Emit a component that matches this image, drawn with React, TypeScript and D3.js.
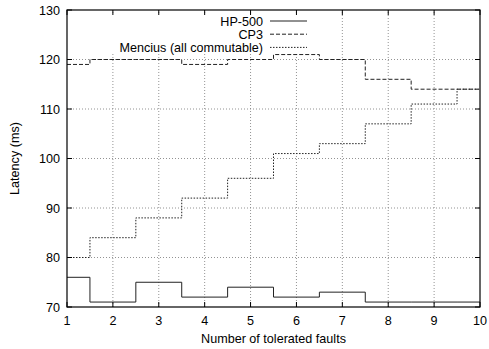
import React, {useEffect, useRef} from 'react';
import * as d3 from 'd3';

const faults = [1, 2, 3, 4, 5, 6, 7, 8, 9, 10];
const hp500 = [76, 71, 75, 72, 74, 72, 73, 71, 71, 71];
const cp3 = [119, 120, 120, 119, 120, 121, 120, 116, 114, 114];
const mencius = [80, 84, 88, 92, 96, 101, 103, 107, 111, 114];
const yTicks = [70, 80, 90, 100, 110, 120, 130];

const seriesList = [
  {name: 'HP-500', values: hp500, dash: null},
  {name: 'CP3', values: cp3, dash: '4,2'},
  {name: 'Mencius (all commutable)', values: mencius, dash: '1.5,1.5'},
];

export default function App() {
  const ref = useRef<SVGSVGElement>(null);

  useEffect(() => {
    const width = 489;
    const height = 349;
    const margin = {top: 10, right: 9, bottom: 42, left: 67};
    const svg = d3.select(ref.current);
    svg.selectAll('*').remove();

    const font = '"Liberation Sans", Arial, Helvetica, sans-serif';
    const fs = 12.6;
    const x = d3.scaleLinear().domain([1, 10])
        .range([margin.left, width - margin.right]);
    const y = d3.scaleLinear().domain([70, 130])
        .range([height - margin.bottom, margin.top]);

    svg.append('rect').attr('width', width).attr('height', height)
        .attr('fill', 'white');

    // grid
    const grid = svg.append('g')
        .attr('stroke', '#777')
        .attr('stroke-width', 0.8)
        .attr('stroke-dasharray', '1,2');
    faults.slice(1, -1).forEach((f) => {
      grid.append('line').attr('x1', x(f)).attr('x2', x(f))
          .attr('y1', y(70)).attr('y2', y(130));
    });
    yTicks.slice(1, -1).forEach((t) => {
      grid.append('line').attr('x1', x(1)).attr('x2', x(10))
          .attr('y1', y(t)).attr('y2', y(t));
    });

    // legend box hides grid
    svg.append('rect')
        .attr('x', 110).attr('y', 14)
        .attr('width', 202).attr('height', 40)
        .attr('fill', 'white');

    // series
    const line = d3.line<number>()
        .x((d, i) => x(faults[i]))
        .y((d) => y(d))
        .curve(d3.curveStep);
    seriesList.forEach((s) => {
      svg.append('path')
          .attr('d', line(s.values))
          .attr('fill', 'none')
          .attr('stroke', '#222')
          .attr('stroke-width', 1)
          .attr('stroke-dasharray', s.dash);
    });

    // border
    svg.append('rect')
        .attr('x', x(1)).attr('y', y(130))
        .attr('width', x(10) - x(1)).attr('height', y(70) - y(130))
        .attr('fill', 'none').attr('stroke', 'black').attr('stroke-width', 1.2);

    // ticks (inward, mirrored)
    const tickLen = 5;
    const ticks = svg.append('g').attr('stroke', 'black');
    faults.forEach((f) => {
      ticks.append('line').attr('x1', x(f)).attr('x2', x(f))
          .attr('y1', y(70)).attr('y2', y(70) - tickLen);
      ticks.append('line').attr('x1', x(f)).attr('x2', x(f))
          .attr('y1', y(130)).attr('y2', y(130) + tickLen);
      svg.append('text')
          .attr('x', x(f)).attr('y', y(70) + 18)
          .attr('text-anchor', 'middle')
          .attr('font-family', font).attr('font-size', fs)
          .text(f);
    });
    yTicks.forEach((t) => {
      ticks.append('line').attr('x1', x(1)).attr('x2', x(1) + tickLen)
          .attr('y1', y(t)).attr('y2', y(t));
      ticks.append('line').attr('x1', x(10)).attr('x2', x(10) - tickLen)
          .attr('y1', y(t)).attr('y2', y(t));
      svg.append('text')
          .attr('x', x(1) - 7).attr('y', y(t) + 4.5)
          .attr('text-anchor', 'end')
          .attr('font-family', font).attr('font-size', fs)
          .text(t);
    });

    // axis labels
    svg.append('text')
        .attr('x', (x(1) + x(10)) / 2).attr('y', 343)
        .attr('text-anchor', 'middle')
        .attr('font-family', font).attr('font-size', fs)
        .text('Number of tolerated faults');
    svg.append('text')
        .attr('transform', `translate(19,${(y(70) + y(130)) / 2}) rotate(-90)`)
        .attr('text-anchor', 'middle')
        .attr('font-family', font).attr('font-size', fs)
        .text('Latency (ms)');

    // legend
    seriesList.forEach((s, i) => {
      const ly = 21 + i * 13.2;
      svg.append('text')
          .attr('x', 263).attr('y', ly + 4.5)
          .attr('text-anchor', 'end')
          .attr('font-family', font).attr('font-size', fs)
          .text(s.name);
      svg.append('line')
          .attr('x1', 270).attr('x2', 307)
          .attr('y1', ly).attr('y2', ly)
          .attr('stroke', '#222')
          .attr('stroke-dasharray', s.dash);
    });
  }, []);

  return (
    <svg ref={ref} width={489} height={349}
      style={{position: 'absolute', left: 0, top: 0}} />
  );
}
